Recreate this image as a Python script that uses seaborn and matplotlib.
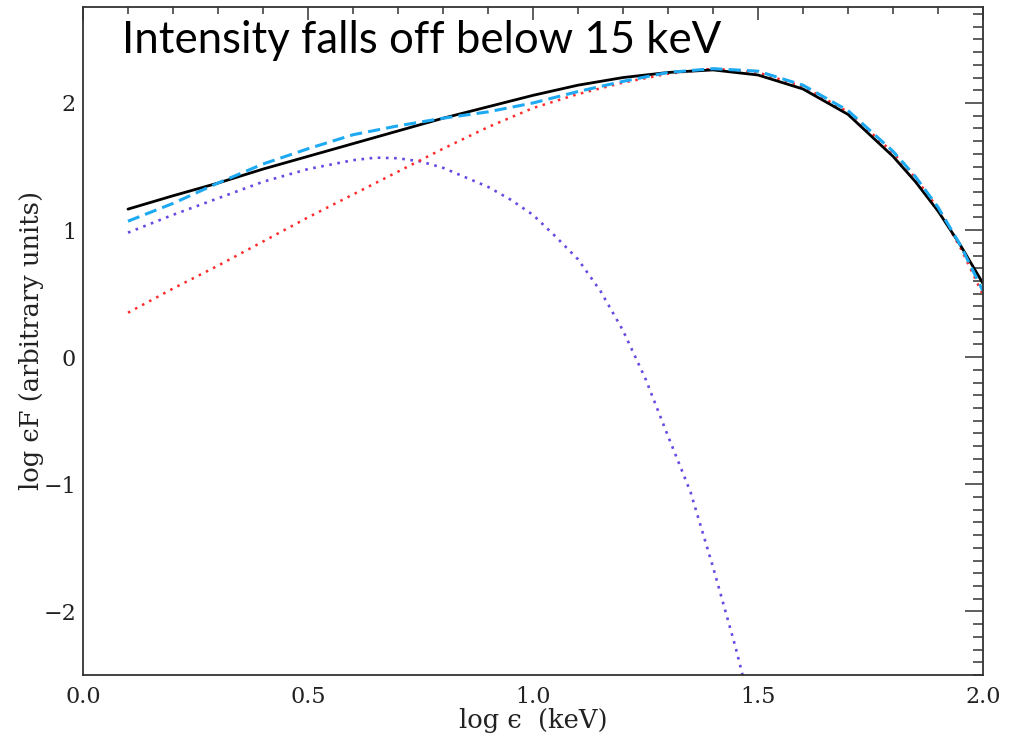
import numpy as np
import pandas as pd
import matplotlib
matplotlib.use("Agg")
import matplotlib.pyplot as plt
import seaborn as sns
from matplotlib.ticker import MultipleLocator

# ---- data ----
log_e = [0.1, 0.2, 0.3, 0.4, 0.5, 0.6, 0.7, 0.8, 0.9, 1.0, 1.1, 1.2, 1.3, 1.4,
         1.5, 1.6, 1.7, 1.8, 1.85, 1.9, 1.95, 2.0]
total = [1.165, 1.27, 1.37, 1.48, 1.58, 1.68, 1.78, 1.88, 1.97, 2.06, 2.14, 2.20,
         2.24, 2.26, 2.22, 2.11, 1.91, 1.58, 1.38, 1.15, 0.88, 0.58]
model_dashed = [1.07, 1.21, 1.37, 1.52, 1.64, 1.75, 1.82, 1.88, 1.93, 2.00, 2.09,
                2.17, 2.24, 2.27, 2.25, 2.14, 1.94, 1.62, 1.42, 1.18, 0.88, 0.52]
hard_comp = [0.35, 0.54, 0.72, 0.91, 1.10, 1.28, 1.46, 1.64, 1.81, 1.96, 2.07,
             2.16, 2.23, 2.27, 2.24, 2.13, 1.93, 1.61, 1.41, 1.17, 0.86, 0.49]
soft_x = [0.1, 0.2, 0.3, 0.4, 0.5, 0.6, 0.65, 0.7, 0.75, 0.8, 0.9, 0.95, 1.0,
          1.05, 1.1, 1.15, 1.2, 1.25, 1.3, 1.35, 1.4, 1.45, 1.48]
soft_comp = [0.98, 1.12, 1.25, 1.38, 1.48, 1.55, 1.57, 1.565, 1.54, 1.49, 1.34,
             1.24, 1.12, 0.95, 0.77, 0.52, 0.21, -0.17, -0.62, -1.06, -1.65,
             -2.28, -2.70]

x_ticks = [0.0, 0.5, 1.0, 1.5, 2.0]
x_tick_labels = ["0.0", "0.5", "1.0", "1.5", "2.0"]
y_ticks = [-2, -1, 0, 1, 2]
y_tick_labels = ["\u22122", "\u22121", "0", "1", "2"]
title_text = "Intensity falls off below 15 keV"
x_label = "log \u03f5  (keV)"
y_label = "log \u03f5F (arbitrary units)"

sns.set_theme(style="white")
plt.rcParams["font.family"] = ["DejaVu Serif"]

fig = plt.figure(figsize=(10.15, 7.39), dpi=100)
ax = fig.add_axes([83 / 1015, 1 - 675 / 739, (983 - 83) / 1015, (675 - 7) / 739])

df_main = pd.DataFrame({"x": log_e, "total": total, "dashed": model_dashed,
                        "hard": hard_comp})
df_soft = pd.DataFrame({"x": soft_x, "soft": soft_comp})

sns.lineplot(data=df_soft, x="x", y="soft", ax=ax, color="#6A48E2", lw=1.9,
             sort=False)
ax.lines[-1].set_dashes((1, 2.1))
sns.lineplot(data=df_main, x="x", y="hard", ax=ax, color="#FF2A2A", lw=1.8, sort=False)
ax.lines[-1].set_dashes((1, 2.2))
sns.lineplot(data=df_main, x="x", y="total", ax=ax, color="black", lw=2.0, sort=False)
sns.lineplot(data=df_main, x="x", y="dashed", ax=ax, color="#1EAAF2", lw=2.2, sort=False)
ax.lines[-1].set_dashes((4, 2))

ax.set_xlim(0.0, 2.0)
ax.set_ylim(-2.5, 2.755)

ax.set_xticks(x_ticks)
ax.set_xticklabels(x_tick_labels)
ax.set_yticks(y_ticks)
ax.set_yticklabels(y_tick_labels)
ax.xaxis.set_minor_locator(MultipleLocator(0.1))
ax.yaxis.set_minor_locator(MultipleLocator(0.1))

ax.tick_params(axis="both", which="both", direction="in", top=True, right=True,
               color="#333333", width=1.1, labelsize=16, labelcolor="#222222")
ax.tick_params(axis="x", which="major", length=9, pad=8)
ax.tick_params(axis="x", which="minor", length=5)
ax.tick_params(axis="y", which="major", length=13, pad=5)
ax.tick_params(axis="y", which="minor", length=7)

for s in ax.spines.values():
    s.set_color("#333333")
    s.set_linewidth(1.3)

ax.set_xlabel(x_label, fontsize=18.5, color="#222222", labelpad=0)
ax.set_ylabel(y_label, fontsize=18.5, color="#222222")
ax.yaxis.set_label_coords((44 - 83) / 900, 0.5)

fig.text(122 / 1015, 1 - 53 / 739, title_text, fontsize=31.5,
         family=["Lato", "DejaVu Sans"], color="black", va="baseline", ha="left")

fig.savefig("out.png", dpi=100)
